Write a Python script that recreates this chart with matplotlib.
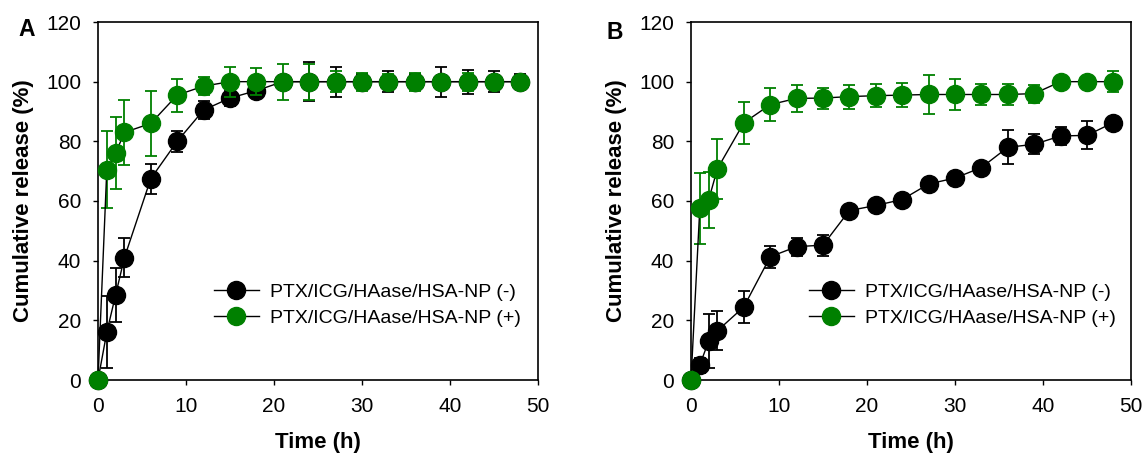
import matplotlib
matplotlib.use("Agg")
import matplotlib.pyplot as plt
from matplotlib.lines import Line2D

plt.rcParams['font.family'] = ['Liberation Sans', 'DejaVu Sans']

# time points (h)
time_h = [0, 1, 2, 3, 6, 9, 12, 15, 18, 21, 24, 27, 30, 33, 36, 39, 42, 45, 48]

# panel A
a_minus = [0, 16, 28.5, 41, 67.5, 80, 90.5, 94.5, 97, 100, 100, 100, 100, 100, 100, 100, 100, 100, 100]
a_minus_err = [0, 12, 9, 6.5, 5, 3.5, 3, 2.5, 2, 2, 6.5, 5, 2.5, 3.5, 2.5, 5, 4, 3.5, 2.5]
a_plus = [0, 70.5, 76, 83, 86, 95.5, 98.5, 100, 100, 100, 100, 100, 100, 100, 100, 100, 100, 100, 100]
a_plus_err = [0, 13, 12, 11, 11, 5.5, 3, 5, 4.5, 6, 6, 3.5, 3, 2.5, 3, 2, 3, 2, 2]

# panel B
b_minus = [0, 5, 13, 16.5, 24.5, 41.3, 44.7, 45.2, 56.8, 58.5, 60.5, 65.7, 67.7, 71.2, 78, 79, 81.8, 82, 86.3]
b_minus_err = [0, 2.5, 9, 6.5, 5.5, 3.7, 3, 3.5, 0, 0, 0, 0, 0, 0, 5.7, 3.3, 3, 4.7, 0]
b_plus = [0, 57.5, 60.3, 70.8, 86.2, 92.3, 94.4, 94.5, 95, 95.3, 95.5, 95.7, 95.7, 95.7, 95.7, 96, 100, 100, 100]
b_plus_err = [0, 12, 9.5, 10, 7, 5.5, 4.5, 3.5, 4, 3.8, 4, 6.7, 5.3, 3.5, 3.5, 3, 0, 0, 3.6]

labels = ["PTX/ICG/HAase/HSA-NP (-)", "PTX/ICG/HAase/HSA-NP (+)"]
green = "#008000"

fig = plt.figure(figsize=(11.45, 4.59), dpi=100)
W, H = 1145, 459
axA = fig.add_axes([98 / W, 1 - 380 / H, 440 / W, 358 / H])
axB = fig.add_axes([691 / W, 1 - 380 / H, 440 / W, 358 / H])


def draw(ax, ym, ye_m, yp, ye_p, letter, letter_xy, leg_anchor):
    ax.errorbar(time_h, ym, yerr=ye_m, color="black", ecolor="black",
                marker="o", markersize=13, linewidth=1, elinewidth=1.3,
                capsize=4, capthick=1.3, zorder=3)
    ax.errorbar(time_h, yp, yerr=ye_p, color="black", ecolor=green,
                marker="o", markersize=13, markerfacecolor=green,
                markeredgecolor=green, linewidth=1, elinewidth=1.3,
                capsize=4, capthick=1.3, zorder=4)
    ax.set_xlim(0, 50)
    ax.set_ylim(0, 120)
    ax.set_xticks(range(0, 51, 10))
    ax.set_yticks(range(0, 121, 20))
    ax.tick_params(direction="out", length=3.5, width=1, labelsize=15, pad=8.5)
    for s in ax.spines.values():
        s.set_linewidth(1.2)
    ax.set_xlabel("Time (h)", fontsize=16, fontweight="bold", labelpad=12)
    ax.set_ylabel("Cumulative release (%)", fontsize=16, fontweight="bold", labelpad=9)
    for c in ax.collections + ax.lines:
        c.set_clip_on(False)
    ax.text(letter_xy[0], letter_xy[1], letter, transform=ax.transAxes,
            fontsize=16.5, fontweight="bold", ha="center", va="center")
    handles = [
        Line2D([], [], color="black", marker="o", markersize=13, linewidth=1),
        Line2D([], [], color="black", marker="o", markersize=13, linewidth=1,
               markerfacecolor=green, markeredgecolor=green),
    ]
    ax.legend(handles, labels, loc="center left", bbox_to_anchor=leg_anchor,
              frameon=False, fontsize=14, handlelength=2.3,
              handletextpad=0.6, labelspacing=0.4, borderaxespad=0)


draw(axA, a_minus, a_minus_err, a_plus, a_plus_err, "A", (-0.161, 0.98), (0.246, 0.209))
draw(axB, b_minus, b_minus_err, b_plus, b_plus_err, "B", (-0.173, 0.97), (0.25, 0.209))

fig.savefig("out.png", dpi=100)
